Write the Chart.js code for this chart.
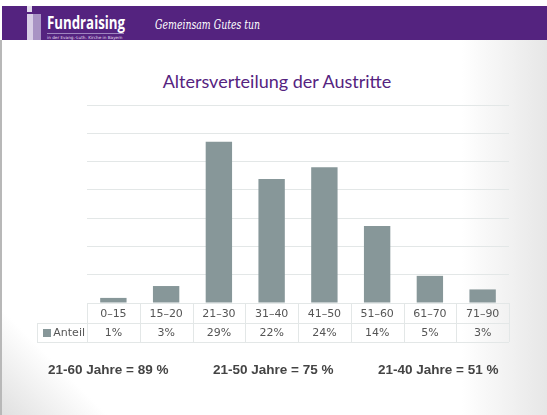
<!DOCTYPE html>
<html>
<head>
<meta charset="utf-8">
<script src="https://cdn.jsdelivr.net/npm/chart.js@4.4.1/dist/chart.umd.min.js"></script>
<style>
  html, body { margin: 0; padding: 0; }
  body {
    width: 547px; height: 415px; overflow: hidden; position: relative;
    background: #fff;
    font-family: "Liberation Sans", Arial, sans-serif;
  }
  #bg {
    position: absolute; left: 0; top: 40px; width: 547px; height: 375px;
    background:
      linear-gradient(to right, rgba(255,255,255,0) 460px, #e6e6e6 547px),
      linear-gradient(45deg, #e0e0e0 0px, rgba(255,255,255,0) 75px);
    border-left: 2px solid #b8b8b8;
    box-sizing: border-box;
  }
  #header {
    position: absolute; left: 2px; top: 6px; width: 545px; height: 34px;
    background: #54237f;
  }
  .logo { position: absolute; }
  #fund {
    position: absolute; left: 45px; top: 5px; color: #fff;
    font: bold 17px "Open Sans", "DejaVu Sans", sans-serif;
    transform: scaleX(0.78); transform-origin: left top;
  }
  #sub {
    position: absolute; left: 45px; top: 27px; color: #e6dff0; width: 77px;
    font: 4.2px "DejaVu Sans", sans-serif; border-top: 1px solid #9f86bf; padding-top: 1px;
    white-space: nowrap;
  }
  #slogan {
    position: absolute; left: 153px; top: 11px; color: #fff;
    font: italic 13px "DejaVu Serif", serif;
    transform: scaleX(0.72); transform-origin: left top;
  }
  #title {
    position: absolute; left: 0; width: 554px; top: 70px; text-align: center;
    color: #55237f; font: 18px Lato, "Open Sans", sans-serif;
  }
  .sum {
    position: absolute; top: 362px; color: #444;
    font: bold 13.5px "Liberation Sans", Arial, sans-serif;
  }
  canvas { position: absolute; left: 0; top: 0; }
</style>
</head>
<body>
<div id="bg"></div>
<div id="header">
  <div class="logo" style="left:25px;top:0;width:5px;height:6px;background:#e4dcee"></div>
  <div class="logo" style="left:25px;top:8px;width:6px;height:26px;background:#d8cee6"></div>
  <div class="logo" style="left:31px;top:8px;width:8px;height:26px;background:#a893c4"></div>
  <div id="fund">Fundraising</div>
  <div id="sub">in der Evang.-Luth. Kirche in Bayern</div>
  <div id="slogan">Gemeinsam Gutes tun</div>
</div>
<div id="title">Altersverteilung der Austritte</div>
<canvas id="chart" width="547" height="415"></canvas>
<div class="sum" style="left:48px">21-60 Jahre = 89 %</div>
<div class="sum" style="left:213px">21-50 Jahre = 75 %</div>
<div class="sum" style="left:378px">21-40 Jahre = 51 %</div>
<script>
const categories = ['0–15', '15–20', '21–30', '31–40', '41–50', '51–60', '61–70', '71–90'];
const anteil = [0.9, 3.0, 28.5, 21.9, 24.0, 13.6, 4.8, 2.4];
const anteilLabels = ['1%', '3%', '29%', '22%', '24%', '14%', '5%', '3%'];
const seriesName = 'Anteil';

const barColor = '#879799';
const lineColor = '#e3e7e7';
const textColor = '#555555';

// draws the data table under the bars, using the x scale positions
const dataTable = {
  id: 'dataTable',
  afterDraw(chart) {
    const ctx = chart.ctx;
    const x = chart.scales.x;
    const area = chart.chartArea;
    const half = (x.getPixelForValue(1) - x.getPixelForValue(0)) / 2;
    const y0 = area.bottom, y1 = y0 + 20, y2 = y1 + 19;
    const left = 37;
    ctx.save();
    ctx.strokeStyle = lineColor;
    ctx.lineWidth = 1;
    ctx.beginPath();
    ctx.moveTo(area.left, y0 + 0.5); ctx.lineTo(area.right, y0 + 0.5);
    ctx.moveTo(left, y1 + 0.5); ctx.lineTo(area.right, y1 + 0.5);
    ctx.moveTo(left, y2 + 0.5); ctx.lineTo(area.right, y2 + 0.5);
    ctx.moveTo(left + 0.5, y1); ctx.lineTo(left + 0.5, y2);
    for (let i = 0; i <= categories.length; i++) {
      const px = Math.round(x.getPixelForValue(0) - half + i * 2 * half) + 0.5;
      ctx.moveTo(px, y0); ctx.lineTo(px, y2);
    }
    ctx.stroke();

    ctx.fillStyle = textColor;
    ctx.font = '11px "DejaVu Sans", sans-serif';
    ctx.textAlign = 'center';
    ctx.textBaseline = 'middle';
    categories.forEach((c, i) => {
      const px = x.getPixelForValue(i);
      ctx.fillText(c, px, y0 + 11);
      ctx.fillText(anteilLabels[i], px, y1 + 10);
    });
    ctx.textAlign = 'right';
    ctx.fillText(seriesName, 85, y1 + 10);
    ctx.fillStyle = barColor;
    ctx.fillRect(43, y1 + 6, 8, 8);
    ctx.restore();
  }
};

new Chart(document.getElementById('chart'), {
  type: 'bar',
  data: {
    labels: categories,
    datasets: [{
      label: seriesName,
      data: anteil,
      backgroundColor: barColor,
      categoryPercentage: 1,
      barPercentage: 0.5
    }]
  },
  options: {
    responsive: false,
    animation: false,
    layout: { padding: { left: 87, right: 38, top: 105, bottom: 112 } },
    plugins: { legend: { display: false }, tooltip: { enabled: false }, title: { display: false } },
    scales: {
      x: { display: false },
      y: {
        min: 0, max: 35,
        ticks: { display: false, stepSize: 5 },
        grid: { color: lineColor, drawTicks: false, lineWidth: 1 },
        border: { display: false }
      }
    }
  },
  plugins: [dataTable]
});
</script>
</body>
</html>
